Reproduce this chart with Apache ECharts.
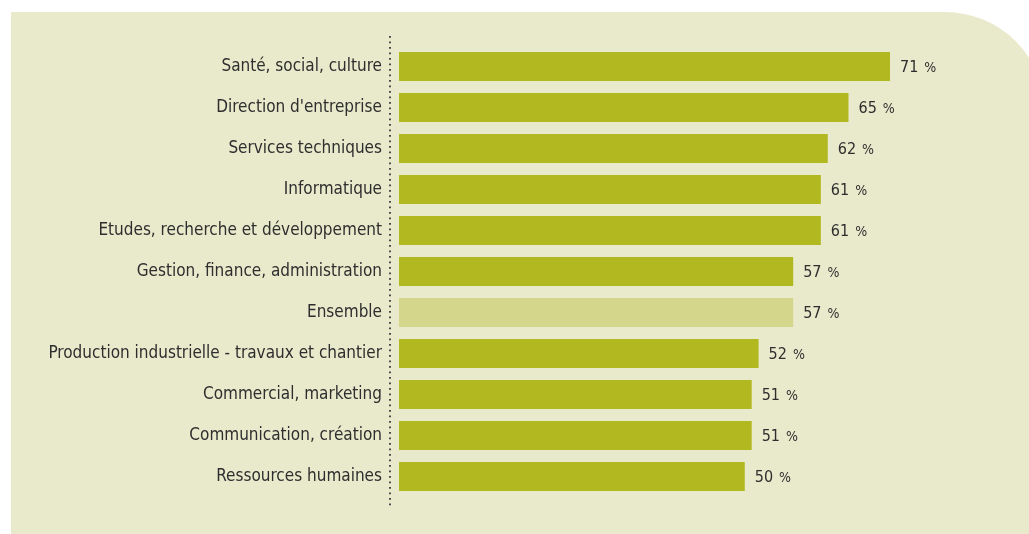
<!DOCTYPE html>
<html>
<head>
<meta charset="utf-8">
<style>
  html, body { margin: 0; padding: 0; background: #ffffff; }
  #chart { width: 1029px; height: 534px; }
</style>
<script src="https://cdn.jsdelivr.net/npm/echarts@6/dist/echarts.min.js"></script>
</head>
<body>
<div id="chart"></div>
<script>
// Job families, top to bottom
const categories = [
  "Santé, social, culture",
  "Direction d'entreprise",
  "Services techniques",
  "Informatique",
  "Etudes, recherche et développement",
  "Gestion, finance, administration",
  "Ensemble",
  "Production industrielle - travaux et chantier",
  "Commercial, marketing",
  "Communication, création",
  "Ressources humaines"
];
// Share in percent
const values = [71, 65, 62, 61, 61, 57, 57, 52, 51, 51, 50];
// The overall row is drawn in a lighter tint
const highlightCategory = "Ensemble";

const BAR = '#b2b920';
const BAR_LIGHT = '#d4d68c';
const PANEL = '#e9eacc';
const TEXT = '#2e2e2e';
const FONT = '"Liberation Sans Narrow", "DejaVu Sans Condensed", "Liberation Sans", sans-serif';

const chart = echarts.init(document.getElementById('chart'), null, { renderer: 'canvas' });

const seriesData = values.map((v, i) => ({
  value: v,
  itemStyle: { color: categories[i] === highlightCategory ? BAR_LIGHT : BAR }
}));

chart.setOption({
  backgroundColor: '#ffffff',
  animation: false,
  graphic: [
    {
      type: 'rect',
      z: -10,
      shape: { x: 11, y: 12, width: 1034, height: 530, r: [0, 100, 0, 0] },
      style: { fill: PANEL }
    },
    {
      type: 'line',
      z: 10,
      shape: { x1: 390, y1: 36, x2: 390, y2: 506 },
      style: { stroke: '#4a4a4a', lineWidth: 2, lineDash: [1.8, 3.7] }
    }
  ],
  grid: { left: 399, right: 7.6, top: 46, bottom: 37, containLabel: false },
  xAxis: {
    type: 'value',
    min: 0,
    max: 90,
    show: false
  },
  yAxis: {
    type: 'category',
    inverse: true,
    data: categories,
    axisLine: { show: false },
    axisTick: { show: false },
    splitLine: { show: false },
    axisLabel: {
      margin: 17,
      color: TEXT,
      fontFamily: FONT,
      fontSize: 17,
      padding: [3, 0, 0, 0]
    }
  },
  series: [{
    type: 'bar',
    data: seriesData,
    barWidth: 29,
    label: {
      show: true,
      position: 'right',
      distance: 10,
      formatter: p => '{v|' + p.value + '}{p|%}',
      rich: {
        v: { color: TEXT, fontFamily: FONT, fontSize: 16, padding: [3, 0, 0, 0] },
        p: { color: TEXT, fontFamily: FONT, fontSize: 14, padding: [4, 0, 0, 6] }
      }
    }
  }]
});
</script>
</body>
</html>
